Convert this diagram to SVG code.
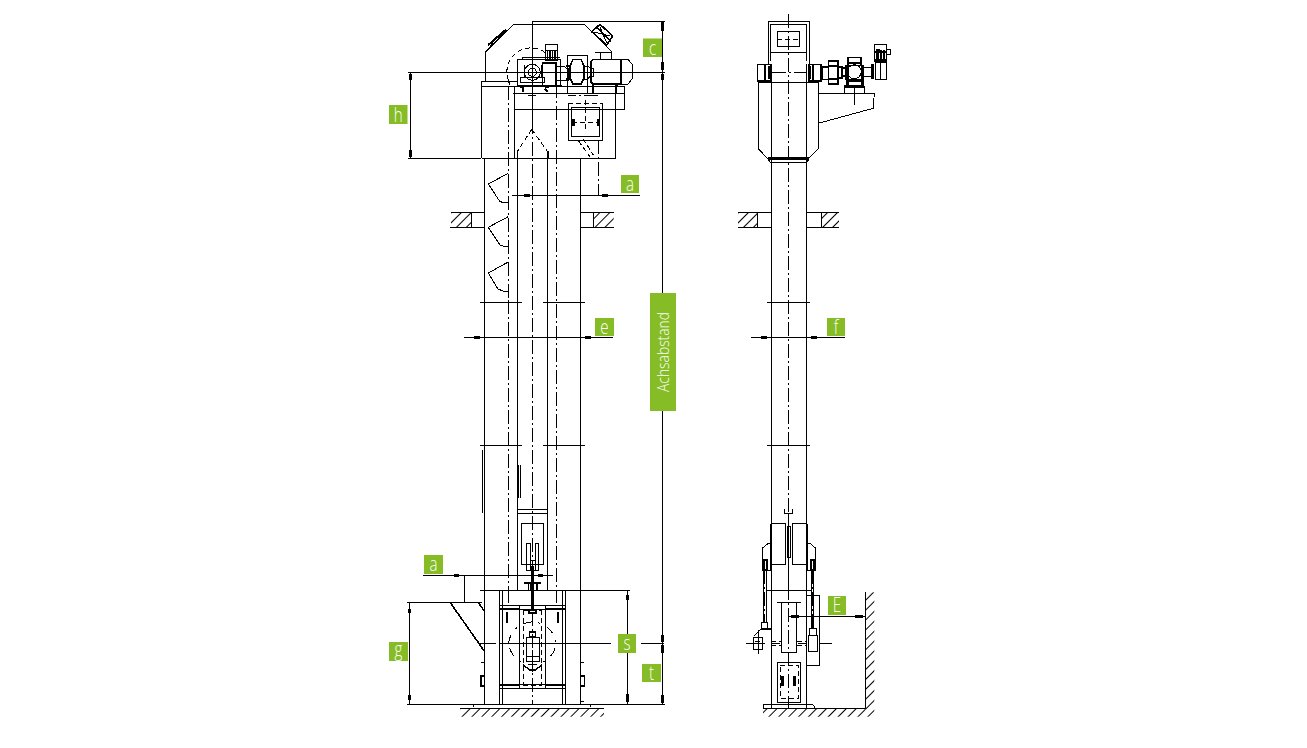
<svg xmlns="http://www.w3.org/2000/svg" width="1307" height="748" viewBox="0 0 1307 748">
<style>
path,circle,rect.o{fill:none;stroke:#000;stroke-width:1;shape-rendering:crispEdges}
.t{stroke-width:1.6}
.th{stroke-width:3}
.c{stroke-dasharray:14 3 2 3}
.cw{stroke-dasharray:9 7 2 7}
.d{stroke-dasharray:5 3}
.ah{stroke-width:3.6}
.lb{fill:#86bc25}
text{fill:#fff;font-family:"Open Sans","Liberation Sans",sans-serif;font-weight:300;font-size:21px;text-anchor:middle}
</style>
<defs>
<pattern id="hatch" width="7" height="7" patternUnits="userSpaceOnUse" patternTransform="rotate(45)"><rect width="7" height="7" fill="#fff"/><path d="M0 0V7" stroke="#000" stroke-width="1"/></pattern>
</defs>
<rect width="1307" height="748" fill="#fff"/>

<g id="front-view">
<!-- head housing -->
<path d="M485 81V52.5L513.5 24.3H584.5L612 52M481.5 158.3V81H517M481.5 86.3H624.3V109.3H514.3M514.3 86.3V158.3M513 93.3H624.3M481.5 158.3H615.7V93.3"/>
<path d="M491 43L506 30M488 45L504 31M490 47L493 44" class="t"/>
<path d="M600 24.3L612.7 36L606.7 45L591.7 31.7ZM596 27L611 41" class="t"/>
<path d="M600 27L606.7 43M594 32L610 36"/>
<!-- drive -->
<path d="M517.3 86V59.3H560.7V86M522 59.3V57H560"/>
<path d="M508.3 80A24 24 0 0 1 545 52.5M508.3 80L510 86" class="d"/>
<circle cx="532.3" cy="72.3" r="8"/><circle cx="532.3" cy="72.3" r="4"/>
<path d="M520.7 77.7H544V82.3H520.7ZM524 77V65M541 77V65"/>
<path d="M542.3 62.7H556V86H542.3ZM518 86H562" class="t"/>
<rect class="o" x="545.3" y="44.3" width="12.4" height="16"/>
<path d="M546 50.5H557" /><path d="M547.5 50V60M550 50V60M552.5 50V60M555 50V60" class="t"/>
<path d="M556 66H564L568 70V80H556M567.3 93.3V55H587.3V93.3"/>
<path d="M573 59.3H581L584 66V78L581 84H573L570 78V66Z M566 66H570M566 79H570" class="t"/>
<path d="M568 68V78" class="th"/>
<path d="M584 66H588L590 68V76L588 79H584M590 68H593V76H590"/>
<path d="M593 59.3H621V84H593L591 82V62Z" class="t"/>
<path d="M621 59.3H628L632.7 65V78L628 84H621M595 52.7H611.7V59.3M600 52.7V59.3M596 84H620"/>
<path d="M616 84L618 87M593 84V93M616 84V93" class="t"/>
<path d="M520 87H524M523 87V92M545 87H549M545 89L548 92" class="t"/>
<!-- centre lines -->
<path d="M532.3 21.7V120"/>
<path d="M528 95H536M532 95V98"/>
<path d="M508.3 86V300M508.3 300V590M556.5 84V590" class="c"/>
<path d="M598.3 95H568.3M598.3 140V195.3" class="c"/>
<path d="M532.3 120V590" class="c"/>
<!-- casing -->
<path d="M484.3 158.3V704M580.6 158.3V704"/>
<path d="M517.3 152V590M547.5 152V590"/>
<path d="M482.5 450V513M518.5 465V498M520 465V498"/>
<!-- inlet -->
<path d="M531.7 129.3L517.3 151.7M531.7 129.3L547.7 151.7" class="d"/>
<path d="M547.7 151V158" class="t"/>
<!-- outlet -->
<path d="M568.3 103.3V140H602.7V103.3M571.7 107.3H599.3V136.7H571.7Z"/>
<path d="M568.3 103.3H602.7M585 100V130M572 122H598" class="d"/>
<path d="M573 119V126M598 119V126" class="th"/>
<path d="M578.3 140.7L590 156.7M583 138.7L593.3 155" class="d"/>
<!-- buckets -->
<path d="M508.3 173.3L488.3 184L500 201.7L503 202.3H508.3"/>
<path d="M508.3 216.6L488.3 227.3L500 245L503 246H508.3"/>
<path d="M508.3 262L488.3 273L498 289L503 291H508.3"/>
<!-- section lines -->
<path d="M480 302.3H521.7M543 302.3H585M480 445.3H521.7M543 445.3H585"/>
<!-- floor -->
<rect x="451" y="212.3" width="20" height="15" fill="url(#hatch)"/>
<rect x="593.3" y="212.3" width="20.4" height="15" fill="url(#hatch)"/>
<path d="M451 212.3H484.3M450 227.3H484.3M471.3 212.3V227.3M580.4 212.3H613.7M580.4 227.3H613.7M593.3 212.3V227.3"/>
<!-- tensioner -->
<path d="M517.3 509H547.3M517.3 513.3H547.3M521.3 523.3H543.7V564.7H521.3Z"/>
<path d="M526.3 543.3H530V570H526.3ZM535 543.3H538.7V570H535Z"/>
<path d="M530 560H535V570H530Z"/>
<path d="M532.3 566V610" class="th"/>
<path d="M524 582.7H540.7M528.3 582.7V590M531 582.7V590M537 582.7V590" class="t"/>
<!-- boot -->
<path d="M480 590.3H630"/>
<path d="M499.3 590.3V704M502.7 590.3V704M562.3 590.3V704M565.7 590.3V704"/>
<path d="M499.3 605.7H565.7M499.3 684.3H565.7M499.3 688.3H565.7M499.3 609.3H565.7M519.3 605.7V688.3M545.3 605.7V688.3"/>
<path d="M499.3 609H519M545.5 609H565.7M499.3 685H519M545.5 685H565.7" class="t"/>
<path d="M502.5 610V684M562.5 610V684" class="d"/>
<path d="M523 610V685M541.7 610V685M523 685H541.7M523 610H541.7" class="d"/>
<path d="M529 610H536V613H529Z" class="t"/>
<path d="M507 623V612M558 623V612" class="t"/>
<path d="M508.5 643.3A24 24 0 0 1 556.2 643.3A24 24 0 0 1 508.5 643.3" class="cw"/>
<path d="M529.5 632H535.5V637H529.5Z" class="t"/>
<path d="M526 637H539V661H526ZM526 656H539M532.3 650V672"/>
<path d="M523 665L530 670H535L542 665" class="t"/>
<path d="M532.3 590V704" class="c"/>
<path d="M508 603V590M556 603V590" class="c"/>
<!-- side handles -->
<path d="M484 675.7H481V686H484M581 675.7H584.5V686H581" class="t"/>
<path d="M481 662.3H484.3M581 662.3H584M581 701.7H584"/>
<path d="M478.3 602.3L484 610.7M450 602.3L484 650.7" class="t"/>
<path d="M479 643.3H496M500 643.3H611M641 643.3H664"/>
<!-- base -->
<path d="M407 704.3H665M474 704.3L473 707M590 704.3L591 707"/>
<rect x="460" y="708.3" width="144" height="8.4" fill="url(#hatch)"/>
<path d="M460 708.3H604"/>
</g>

<g id="side-view">
<path d="M788.3 14V716" class="c"/>
<path d="M768.3 64V21.7H809V64M770.7 61V24H806.7V61M770.7 52.3H806.7M777.3 31.7H799.7V46.7H777.3Z"/>
<path d="M777.3 39H799.7" class="d"/>
<!-- bearings -->
<path d="M757.3 64.3H770.7V81H757.3ZM765 64.3V81M809 64.3H821V81H809ZM813 64.3V81" class="t"/>
<path d="M769 66V79M809 66V79" class="th"/>
<path d="M772 72.3H806" class="c"/>
<!-- body -->
<path d="M758.3 82.3H818.3V149L808 159H768.3L758.3 149ZM771 64V708M806.6 64V708"/>
<path d="M768.3 158.5H809" class="th"/>
<path d="M768.3 159L770 162.3H807L809 159"/>
<!-- drive -->
<path d="M822.3 66.7H828.3V79.3H822.3ZM828.3 60.7H837.7V84H828.3ZM828.3 66H837.7M828.3 79H837.7M837.7 66.7H842V78H837.7ZM842 68H846V76H842Z" class="t"/>
<path d="M846 65.5H863.3V79.3H846ZM848 65.5V57.3H861V65.5ZM848 63H861" class="t"/>
<path d="M847 80H862V86.7H847ZM847 65V80M862 65V80" class="th"/>
<circle cx="854.3" cy="71.7" r="7"/>
<path d="M844.3 86.7H864.3V93.3H844.3Z"/>
<path d="M844 86.5H864" class="th"/>
<path d="M818.3 93.3H874.3L873.3 108.3L818.3 123.3M854 87V105"/>
<path d="M863 67.3H871.7V76H863M875 62.3H886.7V79.3H875ZM880 62.3V79.3"/>
<path d="M872 64V79" class="th"/>
<path d="M874.3 44.3H886.7V61.7H874.3ZM886.7 49.3H890.7V54.3H886.7Z"/>
<path d="M875.5 50H880M875 52H886M875 60H886M878 50V61M881 50V61M884 50V61M877 52V61" class="t"/>
<!-- floor -->
<rect x="738" y="212.3" width="19" height="15" fill="url(#hatch)"/>
<rect x="821" y="212.3" width="18" height="15" fill="url(#hatch)"/>
<path d="M738 212.3H771M738 227.3H771M757 212.3V227.3M806.6 212.3H839M806.6 227.3H839M821 212.3V227.3"/>
<path d="M767 302.3H810M767 445.3H810"/>
<!-- lower -->
<path d="M784.3 509V513H792.7V509M771.3 523.3H785.7V564.3H771.3ZM792.3 523.3H806.7V564.3H792.3ZM787.3 526.7H790.7V557.3H787.3Z"/>
<path d="M771 524V570M807 524V570" class="t"/>
<path d="M788.5 513V590" class="t"/>
<path d="M771 543.3H768.3L762.3 548.3V570H771M807 543.3H810L815.7 548.3V570H807"/>
<path d="M764 560H767V570H764ZM811 560H814V570H811Z" class="t"/>
<path d="M763.5 570V622M766 570V622M811 570V628M813.5 570V628"/>
<path d="M764.7 570V622M812.3 570V628" class="c"/>
<path d="M766.7 590H811.7M767 628H771"/>
<path d="M806.7 595H819.7V665.7H806.7Z"/>
<path d="M777.3 602.3H800.7M781 602.3V652.7M796.7 602.3V652.7"/>
<path d="M781 652.5H796.7" class="t"/>
<path d="M746 643.3H765M772 643.3H780M798 643.3H806M820 643.3H831.7"/>
<path d="M771.3 641.7H781M771.3 645H781M796.7 641.7H806.7M796.7 645H806.7" class="d"/>
<path d="M808 635H817.7V651.7H808ZM753.3 637.3H762.7V649.3H753.3ZM758 630V654M755 641H760"/>
<path d="M809 628H816V635H809Z" fill="#000"/>
<path d="M761 622H767V628H761Z" fill="#000"/>
<path d="M754 636L761 629H771"/>
<path d="M777.3 662.3H800.7V702.3H777.3Z"/>
<path d="M780 665H798.3V698.3H780Z" class="d"/>
<path d="M782.8 675.7V686M794.8 675.7V686" class="th"/>
<path d="M763.3 708V705L765 704H812L814 706V708"/>
<rect x="763" y="708.3" width="102" height="8.4" fill="url(#hatch)"/>
<rect x="865.3" y="592.3" width="9" height="124.4" fill="url(#hatch)"/>
<path d="M763 708.3H865.3V592.3"/>
</g>

<g id="connectors">
<path d="M532.3 21.7H665M470 72.3H665M662.3 21.7V704"/>
<path d="M662.3 22V31M662.3 62V70M662.3 74V80M662.3 635V642M662.3 645V653M662.3 695V703" class="ah"/>
<path d="M408 72.3H481M408 158.3H481M410.5 72.3V158.3"/>
<path d="M410.5 74V80M410.5 150V157" class="ah"/>
<path d="M512 195.3H640"/>
<path d="M524 195.3H530M602 195.3H608" class="ah"/>
<path d="M464 337.3H612.7"/>
<path d="M474 337.3H480M585 337.3H591" class="ah"/>
<path d="M751 337.3H845"/>
<path d="M761 337.3H767M811 337.3H817" class="ah"/>
<path d="M423 575.3H552.7M464.3 575.3V602.3"/>
<path d="M454 575.3H459M538 575.3H543" class="ah"/>
<path d="M407 602.3H481.7M409.5 602.3V704"/>
<path d="M409.5 609V613M409.5 695V700" class="ah"/>
<path d="M627.3 590.3V704"/>
<path d="M627.3 595V600M627.3 694V702" class="ah"/>
<path d="M788.3 616.3H865.3"/>
<path d="M791 616.3H799M855 616.3H863" class="ah"/>
</g>

<g id="label-c"><rect class="lb" x="643" y="38.5" width="19" height="18.5"/><text transform="translate(652.5 55) scale(.72 1)">c</text></g>
<g id="label-h"><rect class="lb" x="389" y="105" width="18.5" height="19"/><text transform="translate(398.2 122) scale(.72 1)">h</text></g>
<g id="label-a-top"><rect class="lb" x="621" y="175" width="18" height="18"/><text transform="translate(630 191) scale(.72 1)">a</text></g>
<g id="label-e"><rect class="lb" x="595" y="318" width="19" height="18"/><text transform="translate(604.5 334) scale(.72 1)">e</text></g>
<g id="label-f"><rect class="lb" x="827" y="318" width="18" height="18"/><text transform="translate(836 334) scale(.72 1)">f</text></g>
<g id="label-a-low"><rect class="lb" x="424" y="555" width="19" height="19"/><text transform="translate(433.5 571) scale(.72 1)">a</text></g>
<g id="label-g"><rect class="lb" x="389" y="642" width="19" height="19"/><text transform="translate(398.5 656) scale(.72 1)">g</text></g>
<g id="label-s"><rect class="lb" x="618" y="634" width="18" height="19"/><text transform="translate(627 650) scale(.72 1)">s</text></g>
<g id="label-t"><rect class="lb" x="642" y="664" width="19" height="18"/><text transform="translate(651.5 680) scale(.72 1)">t</text></g>
<g id="label-E"><rect class="lb" x="828" y="596" width="18" height="19"/><text transform="translate(837 612) scale(.72 1)">E</text></g>
<g id="label-axis"><rect class="lb" x="650" y="293" width="26" height="118"/><text transform="translate(669 352) rotate(-90)" textLength="80" lengthAdjust="spacingAndGlyphs" style="font-size:17px">Achsabstand</text></g>
</svg>
